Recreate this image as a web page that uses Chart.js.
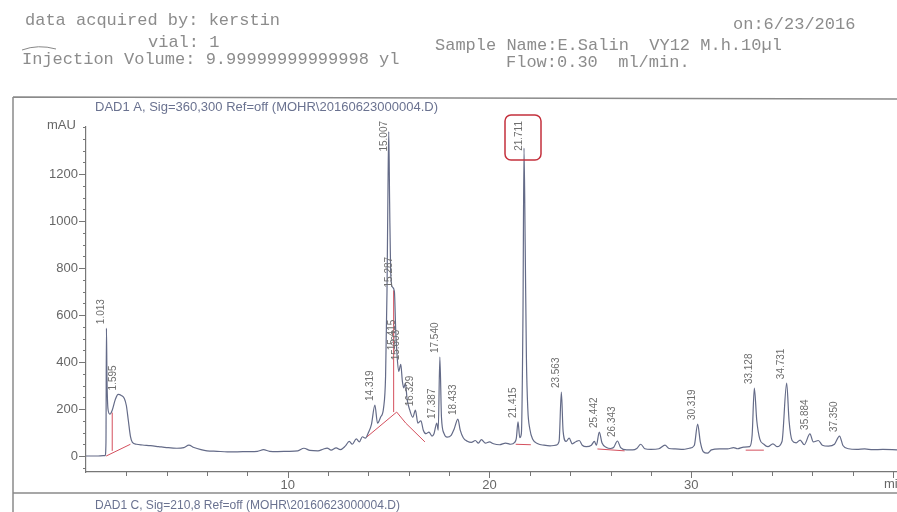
<!DOCTYPE html>
<html>
<head>
<meta charset="utf-8">
<script src="https://cdn.jsdelivr.net/npm/chart.js@4.4.1/dist/chart.umd.min.js"></script>
<style>
  html, body { margin: 0; padding: 0; background: #fff; }
  #wrap { position: relative; width: 897px; height: 512px; }
</style>
</head>
<body>
<div id="wrap"><canvas id="chrom"></canvas></div>
<script>
// 1. Trace: retention time (min) / signal (mAU)
const traceTimes = [
  0, 0.6, 0.95, 0.99, 1.013, 1.04, 1.09, 1.18, 1.3, 1.45, 1.595, 1.75, 1.9, 2.0, 2.1, 2.2, 2.3, 2.5, 2.8, 3.2,
  3.6, 4.0, 4.5, 4.85, 5.1, 5.35, 5.7, 6.0, 6.5, 7.0, 7.5, 8.0, 8.5, 8.8, 9.1, 9.5, 10.0, 10.5, 10.8, 11.1,
  11.5, 11.75, 11.95, 12.15, 12.4, 12.6, 12.85, 13.05, 13.2, 13.4, 13.55, 13.7, 13.85, 14.0, 14.15, 14.319, 14.45, 14.6, 14.75, 14.85,
  14.92, 14.97, 15.007, 15.05, 15.1, 15.18, 15.287, 15.35, 15.415, 15.5, 15.603, 15.68, 15.75, 15.83, 15.92, 16.05, 16.2, 16.329, 16.45, 16.6,
  16.72, 16.85, 17.0, 17.15, 17.25, 17.387, 17.46, 17.54, 17.62, 17.75, 17.9, 18.1, 18.25, 18.433, 18.55, 18.7, 18.9, 19.1, 19.3, 19.45,
  19.6, 19.8, 20.0, 20.2, 20.5, 20.8, 21.05, 21.25, 21.33, 21.415, 21.5, 21.58, 21.66, 21.711, 21.77, 21.83, 21.9, 22.0, 22.15, 22.4,
  22.7, 23.0, 23.3, 23.45, 23.563, 23.65, 23.8, 23.95, 24.1, 24.3, 24.45, 24.6, 24.8, 25.05, 25.2, 25.3, 25.442, 25.58, 25.8, 26.0,
  26.15, 26.343, 26.5, 26.8, 27.1, 27.3, 27.5, 27.7, 28.0, 28.4, 28.7, 28.9, 29.2, 29.6, 29.9, 30.15, 30.319, 30.45, 30.6, 30.8,
  31.0, 31.4, 31.8, 32.1, 32.3, 32.6, 32.9, 33.02, 33.128, 33.25, 33.4, 33.6, 33.8, 34.05, 34.25, 34.5, 34.731, 34.85, 35.0, 35.2,
  35.4, 35.6, 35.884, 36.05, 36.3, 36.5, 36.8, 37.1, 37.35, 37.52, 37.8, 38.2, 38.6, 39.0, 39.5, 40.2
];
const traceValues = [
  0, 0, 2, 60, 544, 330, 200, 178, 195, 240, 262, 258, 245, 215, 150, 85, 58, 50, 47, 44,
  40, 36, 33, 36, 46, 36, 27, 22, 20, 18, 18, 19, 20, 27, 20, 19, 20, 22, 33, 24,
  22, 29, 34, 25, 35, 27, 42, 62, 50, 73, 60, 82, 76, 100, 135, 217, 140, 165, 205, 340,
  700, 1150, 1380, 1080, 790, 720, 700, 540, 433, 360, 390, 320, 290, 310, 240, 195, 165, 195, 140, 150,
  110, 95, 102, 85, 95, 140, 110, 421, 165, 95, 80, 88, 115, 157, 110, 78, 63, 58, 66, 55,
  70, 55, 60, 52, 48, 55, 50, 58, 75, 145, 78, 95, 600, 1310, 900, 420, 200, 115, 70, 52,
  46, 43, 46, 62, 272, 105, 62, 76, 52, 62, 66, 46, 40, 46, 62, 46, 102, 55, 36, 32,
  36, 64, 36, 26, 26, 32, 50, 31, 28, 31, 46, 32, 30, 28, 33, 45, 136, 60, 18, 12,
  26, 30, 30, 36, 31, 38, 40, 90, 289, 150, 72, 50, 40, 52, 40, 62, 310, 150, 66, 56,
  68, 48, 94, 60, 66, 46, 42, 50, 85, 45, 31, 28, 30, 27, 28, 26
];

// 2. Integration baselines (red), null breaks the segments
const redTimes  = [1.0, 2.2, null, 1.3, 1.3, null, 13.92, 15.4, 15.85, 16.8, null, 15.25, 15.25, null, 21.3, 22.05, null, 25.35, 26.7, null, 32.7, 33.6];
const redValues = [0, 50, null, 22, 185, null, 81, 187, 140, 60, null, 187, 705, null, 50, 48, null, 30, 22, null, 25, 25];

// 3. Peak labels
const peakTimes   = [1.013, 1.595, 14.319, 15.007, 15.287, 15.415, 15.603, 16.329, 17.387, 17.540, 18.433, 21.415, 21.711, 23.563, 25.442, 26.343, 30.319, 33.128, 34.731, 35.884, 37.350];
const peakHeights = [544, 262, 217, 1380, 700, 433, 390, 195, 140, 421, 157, 145, 1310, 272, 102, 64, 136, 289, 310, 94, 85];
const boxedPeak = 21.711;

// 4. Axes
const yTickValues = [0, 200, 400, 600, 800, 1000, 1200];
const xTickValues = [10, 20, 30];

const pts = (ts, vs) => ts.map((t, i) => (t === null ? { x: null, y: null } : { x: t, y: vs[i] }));

const decor = {
  id: 'decor',
  beforeDraw(chart) {
    const c = chart.ctx;
    c.save();
    c.fillStyle = '#ffffff';
    c.fillRect(0, 0, chart.width, chart.height);
    c.restore();
  },
  afterDraw(chart) {
    const c = chart.ctx;
    const xs = chart.scales.x, ys = chart.scales.y;
    const area = chart.chartArea;
    c.save();

    // header printed by the instrument
    c.fillStyle = '#8c8c8c';
    c.font = '17px "Liberation Mono"';
    c.textBaseline = 'alphabetic';
    c.fillText('data acquired by: kerstin', 25, 25);
    c.fillText('vial: 1', 148, 47);
    c.fillText('Injection Volume: 9.99999999999998 yl', 22, 64);
    c.fillText('on:6/23/2016', 733, 29);
    c.fillText('Sample Name:E.Salin  VY12 M.h.10\u00b5l', 435, 50);
    c.fillText('Flow:0.30  ml/min.', 506, 67);

    // pen mark above "Injection"
    c.strokeStyle = '#888';
    c.lineWidth = 1;
    c.beginPath();
    c.moveTo(22, 50); c.quadraticCurveTo(38, 44, 56, 49);
    c.stroke();

    // frame
    c.strokeStyle = '#8a8a8a';
    c.lineWidth = 1.5;
    c.beginPath();
    c.moveTo(13, 97); c.lineTo(897, 99);
    c.moveTo(13, 97); c.lineTo(13, 512);
    c.moveTo(13, 493); c.lineTo(897, 493);
    c.stroke();

    c.fillStyle = '#6a7290';
    c.font = '13px "Liberation Sans"';
    c.textBaseline = 'middle';
    c.fillText('DAD1 A, Sig=360,300 Ref=off (MOHR\\20160623000004.D)', 95, 107, 360);
    c.fillText('DAD1 C, Sig=210,8 Ref=off (MOHR\\20160623000004.D)', 95, 505, 305);

    c.fillStyle = '#666';
    c.fillText('mAU', 47, 125);
    c.fillText('min', 884, 484);

    // tick marks
    c.strokeStyle = '#777';
    c.lineWidth = 1;
    c.beginPath();
    for (let v = -50; v <= 1400; v += 50) {
      const py = Math.round(ys.getPixelForValue(v)) + 0.5;
      const major = v % 200 === 0 && v >= 0 && v <= 1200;
      c.moveTo(area.left - (major ? 7 : 3), py); c.lineTo(area.left, py);
    }
    for (let t = 2; t <= 40; t += 2) {
      const px = Math.round(xs.getPixelForValue(t)) + 0.5;
      const major = t % 10 === 0;
      c.moveTo(px, area.bottom); c.lineTo(px, area.bottom + (major ? 6 : 4));
    }
    c.stroke();

    // peak retention-time labels
    c.font = '10px "Liberation Sans"';
    c.fillStyle = '#6e6e6e';
    c.textAlign = 'left';
    c.textBaseline = 'middle';
    peakTimes.forEach((t, i) => {
      const txt = t.toFixed(3);
      const w = c.measureText(txt).width;
      const px = xs.getPixelForValue(t) - 5;
      let bottom = ys.getPixelForValue(peakHeights[i]) - 4;
      if (bottom - w < 121) bottom = 121 + w;
      c.save();
      c.translate(px, bottom);
      c.rotate(-Math.PI / 2);
      c.fillText(txt, 0, 0);
      c.restore();
      if (t === boxedPeak) {
        c.strokeStyle = '#c4303c';
        c.lineWidth = 1.5;
        c.beginPath();
        c.roundRect(px - 14, bottom - w - 6, 36, 45, 6);
        c.stroke();
      }
    });
    c.restore();
  }
};

new Chart(document.getElementById('chrom'), {
  type: 'line',
  data: {
    datasets: [
      {
        data: pts(redTimes, redValues),
        borderColor: '#d4505e',
        borderWidth: 1,
        pointRadius: 0,
        spanGaps: false,
        tension: 0,
        order: 2
      },
      {
        data: pts(traceTimes, traceValues),
        borderColor: '#646b88',
        borderWidth: 1.2,
        pointRadius: 0,
        cubicInterpolationMode: 'monotone',
        order: 1
      }
    ]
  },
  plugins: [decor],
  options: {
    responsive: true,
    maintainAspectRatio: false,
    animation: false,
    events: [],
    layout: { padding: { top: 127, left: 0, right: 0, bottom: 0 } },
    plugins: { legend: { display: false }, tooltip: { enabled: false } },
    scales: {
      x: {
        type: 'linear',
        min: 0, max: 40.2,
        afterFit: s => { s.height = 40; },
        afterBuildTicks: s => { s.ticks = xTickValues.map(v => ({ value: v })); },
        grid: { display: false, drawTicks: false },
        border: { display: true, color: '#777', width: 1.2 },
        ticks: { padding: 6, color: '#666', font: { family: 'Liberation Sans', size: 13 }, maxRotation: 0, callback: v => String(v) }
      },
      y: {
        type: 'linear',
        min: -68, max: 1400,
        afterFit: s => { s.width = 86; },
        afterBuildTicks: s => { s.ticks = yTickValues.map(v => ({ value: v })); },
        grid: { display: false, drawTicks: false },
        border: { display: true, color: '#777', width: 1.2 },
        ticks: { padding: 8, color: '#666', font: { family: 'Liberation Sans', size: 13 }, callback: v => String(v) }
      }
    }
  }
});
</script>
</body>
</html>
